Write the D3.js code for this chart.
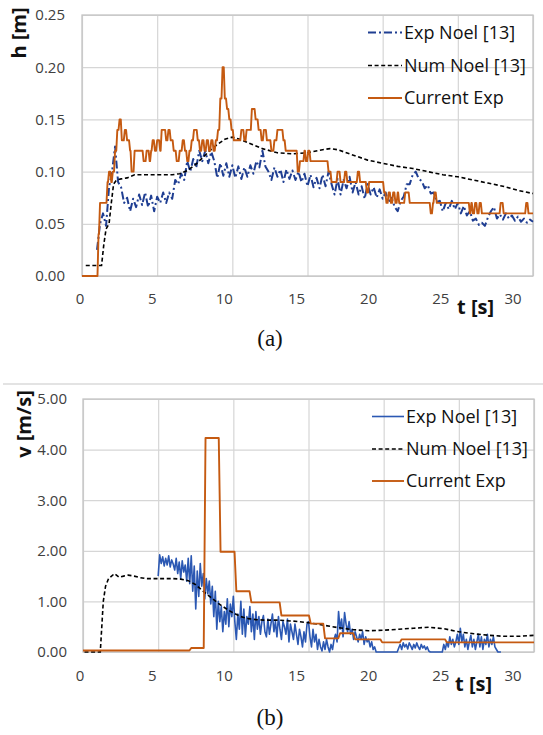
<!DOCTYPE html>
<html><head><meta charset="utf-8">
<script src="https://cdn.jsdelivr.net/npm/d3@7"></script>
<style>body{margin:0;background:#fff}</style>
</head><body><svg id="c" width="543" height="735" font-family="Open Sans, sans-serif"></svg>
<script>
// ---------- DATA ----------
const tTicks = [0, 5, 10, 15, 20, 25, 30];
const hTicks = [0, 0.05, 0.10, 0.15, 0.20, 0.25];
const vTicks = [0, 1, 2, 3, 4, 5];
const seriesNames = ["Exp Noel [13]", "Num Noel [13]", "Current Exp"];
const panelTags = ["(a)", "(b)"];
const yTitles = ["h [m]", "v [m/s]"];
const xTitle = "t [s]";

// (a) Exp Noel h, sampled every 0.2 s from t = 1.0
const hExpStart = 1.0, hExpStep = 0.2;
const hExp = [0.025,0.05,0.06,0.048,0.085,0.1,0.124,0.09,0.085,0.07,
0.075,0.062,0.074,0.066,0.078,0.068,0.08,0.066,0.077,0.062,
0.076,0.07,0.08,0.07,0.08,0.074,0.092,0.088,0.098,0.092,
0.11,0.1,0.112,0.104,0.12,0.11,0.12,0.108,0.119,0.11,
0.094,0.108,0.096,0.108,0.095,0.106,0.094,0.105,0.093,0.104,
0.095,0.106,0.098,0.11,0.104,0.12,0.105,0.1,0.092,0.104,
0.095,0.102,0.09,0.102,0.093,0.101,0.092,0.1,0.09,0.098,
0.086,0.097,0.085,0.094,0.084,0.097,0.086,0.1,0.088,0.078,
0.093,0.078,0.092,0.084,0.095,0.08,0.09,0.078,0.086,0.074,
0.088,0.078,0.085,0.075,0.083,0.074,0.08,0.07,0.075,0.066,
0.062,0.072,0.076,0.088,0.088,0.097,0.1,0.093,0.091,0.084,
0.087,0.079,0.08,0.071,0.072,0.062,0.07,0.064,0.072,0.064,
0.07,0.06,0.067,0.058,0.062,0.053,0.055,0.049,0.051,0.048,
0.056,0.062,0.066,0.055,0.059,0.054,0.06,0.055,0.058,0.053,
0.057,0.052,0.055,0.051,0.054,0.052];

// (a) Num Noel h
const hNumT = [0.25,1.3,1.45,1.6,1.8,1.95,2.1,2.3,2.6,3.0,3.5,4,5,6,6.5,7,7.5,8,8.5,9,9.5,10,10.5,11,12,13,14,15,16,16.5,17,18,19,20,21,22,23,24,25,26,27,28,29,30];
const hNumV = [0.01,0.01,0.03,0.045,0.05,0.07,0.088,0.092,0.093,0.094,0.097,0.097,0.097,0.097,0.098,0.101,0.106,0.113,0.12,0.126,0.131,0.133,0.131,0.128,0.122,0.118,0.117,0.118,0.121,0.122,0.121,0.116,0.111,0.108,0.105,0.103,0.1,0.097,0.095,0.092,0.089,0.086,0.082,0.079];

// (a) Current Exp h (level changes)
const hCurT = [0,1.1,1.2,1.7,1.8,1.95,2.05,2.2,2.35,2.5,2.65,2.85,3.0,3.2,3.3,3.5,4.1,4.3,4.5,4.6,4.7,4.85,5.0,5.2,5.3,5.6,5.75,5.9,6.1,6.3,6.5,6.7,6.85,7.0,7.15,7.3,7.45,7.7,7.85,8.0,8.15,8.3,8.45,8.6,8.75,8.9,9.05,9.2,9.35,9.5,9.65,9.8,9.95,10.1,10.6,10.8,10.95,11.3,11.55,11.75,11.95,12.1,12.3,12.6,12.8,13.0,13.2,13.4,13.55,14.35,14.5,14.8,14.9,15.05,15.2,16.4,16.6,17.0,17.2,17.5,17.65,18.35,18.5,18.95,19.1,20.1,20.25,20.4,20.55,20.7,20.85,21.0,21.1,21.5,21.8,23.2,23.35,23.45,23.6,25.8,25.9,26.0,26.15,26.3,26.45,26.6,27.85,28.05,29.55,29.7,30];
const hCurV = [0,0.04,0.07,0.09,0.10,0.09,0.10,0.12,0.14,0.15,0.13,0.14,0.13,0.12,0.10,0.12,0.11,0.12,0.11,0.12,0.13,0.12,0.13,0.12,0.14,0.13,0.14,0.13,0.12,0.11,0.12,0.13,0.12,0.11,0.12,0.13,0.14,0.13,0.12,0.13,0.12,0.13,0.12,0.13,0.12,0.13,0.14,0.17,0.20,0.17,0.16,0.15,0.14,0.13,0.14,0.13,0.14,0.16,0.15,0.14,0.13,0.14,0.13,0.12,0.13,0.14,0.14,0.13,0.12,0.10,0.11,0.12,0.11,0.12,0.11,0.10,0.09,0.10,0.09,0.10,0.09,0.10,0.09,0.08,0.09,0.08,0.07,0.08,0.07,0.08,0.07,0.08,0.07,0.08,0.07,0.06,0.07,0.08,0.07,0.06,0.07,0.06,0.07,0.06,0.07,0.06,0.07,0.06,0.07,0.06,0.06];

// (b) Exp Noel v, sampled every 0.1 s from t = 5.0
const vExpStart = 5.0, vExpStep = 0.1;
const vExp = [1.50,1.92,1.75,1.88,1.70,1.85,1.72,1.90,1.68,1.82,
1.74,1.62,1.85,1.55,1.78,1.45,1.80,1.58,1.72,1.40,
1.85,1.35,1.90,1.20,1.70,0.85,1.60,1.10,1.75,1.30,
1.55,1.05,1.45,1.15,1.40,0.95,1.30,0.70,1.20,0.45,
1.00,0.60,0.90,0.40,0.80,0.55,1.05,0.50,0.95,0.70,
1.10,0.60,0.25,0.75,0.45,1.00,0.35,0.85,0.30,0.70,
0.55,0.90,0.40,0.75,0.25,0.80,0.45,0.70,0.35,0.60,
0.72,0.40,0.30,0.65,0.35,0.55,0.75,0.40,0.60,0.30,
0.70,0.45,0.25,0.60,0.50,0.35,0.65,0.20,0.55,0.40,
0.25,0.55,0.35,0.15,0.45,0.30,0.10,0.40,0.20,0.55,
0.60,0.30,0.10,0.45,0.20,0.35,0.05,0.25,0.10,0.02,
0.20,0.05,0.25,0.10,0.00,0.15,0.05,0.25,0.35,0.20,
0.80,0.45,0.65,0.30,0.78,0.55,0.40,0.60,0.35,0.45,
0.25,0.40,0.30,0.20,0.35,0.25,0.40,0.15,0.30,0.20,
0.25,0.10,0.20,0.05,0.10,0.00,0.00,0.00,0.00,0.00,
0,0,0,0,0,0,0,0,0,0,
0.08,0.15,0.05,0.18,0.10,0.15,0.06,0.18,0.12,0.05,
0.15,0.08,0.18,0.10,0.05,0.15,0.08,0.12,0.05,0.10,
0.02,0,0,0,0,0,0,0,0,0,
0.15,0.05,0.20,0.10,0.30,0.15,0.25,0.10,0.20,0.35,
0.15,0.47,0.20,0.35,0.10,0.25,0.05,0.20,0.33,0.10,
0.25,0.05,0.20,0.35,0.10,0.30,0.05,0.25,0.15,0.35,
0.10,0.25,0.15,0.30,0.10,0.05,0.00,0.00,0.00];

// (b) Num Noel v
const vNumT = [0.1,1.15,1.25,1.35,1.5,1.7,1.9,2.1,2.4,2.7,3.0,3.4,3.8,4.2,5,6,6.5,7,7.5,8,8.5,9,9.5,10,10.5,11,11.5,12,12.5,13,14,15,16,17,18,19,20,21,22,23,24,25,26,27,28,29,30];
const vNumV = [0,0,0.5,1.0,1.3,1.45,1.5,1.55,1.48,1.5,1.52,1.5,1.47,1.45,1.45,1.45,1.44,1.41,1.33,1.2,1.08,0.96,0.86,0.77,0.7,0.66,0.64,0.63,0.63,0.63,0.61,0.58,0.53,0.48,0.44,0.42,0.43,0.45,0.47,0.49,0.46,0.4,0.36,0.33,0.31,0.31,0.33];

// (b) Current Exp v (level changes)
const vCurT = [0,7.2,8.15,9.15,10.2,11.2,13.2,15.15,16.1,17.1,18.1,19.9,21.2,24.2,30];
const vCurV = [0.03,0.08,4.23,1.98,1.2,0.98,0.72,0.56,0.27,0.37,0.25,0.19,0.25,0.19,0.19];

// ---------- DRAW ----------
const svg = d3.select("#c");
svg.append("rect").attr("width",543).attr("height",735).attr("fill","#fff");

const C_ORANGE = "#c55a11", C_NAVY = "#1f3e92", C_BLUE = "#2b58b3", C_GRID = "#d6d6d6", C_TXT = "#404040";

// level-change list -> plateau points joined by short ramps (as the sampled record is drawn)
function plateaus(T, V, ramp) {
  const pts = [];
  for (let i = 0; i < T.length; i++) {
    pts.push([T[i], V[i]]);
    if (i < T.length - 1 && T[i+1] - ramp > T[i]) pts.push([T[i+1] - ramp, V[i]]);
  }
  return pts;
}

function panel(o) {
  const x = d3.scaleLinear().domain([0,30]).range([o.left, o.right]);
  const xl = d3.scaleLinear().domain([0,30]).range([o.labL, o.labR]);
  const y = d3.scaleLinear().domain(o.ydom).range([o.bottom, o.top]);
  const g = svg.append("g");
  g.append("g").attr("transform",`translate(0,${o.bottom})`)
    .call(d3.axisBottom(x).tickValues(tTicks).tickSize(-(o.bottom-o.top)).tickFormat(""))
    .call(s=>s.select(".domain").remove())
    .call(s=>s.selectAll("line").attr("stroke",C_GRID).attr("stroke-width",1.2));
  g.append("g").attr("transform",`translate(${o.left},0)`)
    .call(d3.axisLeft(y).tickValues(o.yticks).tickSize(-(o.right-o.left)).tickFormat(""))
    .call(s=>s.select(".domain").remove())
    .call(s=>s.selectAll("line").attr("stroke",C_GRID).attr("stroke-width",1.2));
  g.append("rect").attr("x",o.left).attr("y",o.top).attr("width",o.right-o.left).attr("height",o.bottom-o.top)
    .attr("fill","none").attr("stroke","#c4c4c4").attr("stroke-width",1.3);
  g.append("g").attr("transform",`translate(${o.left},0)`)
    .call(d3.axisLeft(y).tickValues(o.yticks).tickSize(0).tickPadding(o.ypad).tickFormat(d3.format(".2f")))
    .call(s=>s.select(".domain").remove())
    .call(s=>s.selectAll("text").attr("font-size",15).attr("fill",C_TXT).style("font-family","Open Sans, sans-serif"));
  g.append("g").attr("transform",`translate(0,${o.xlabY})`)
    .call(d3.axisBottom(xl).tickValues(tTicks).tickSize(0).tickPadding(0).tickFormat(d3.format("d")))
    .call(s=>s.select(".domain").remove())
    .call(s=>s.selectAll("text").attr("font-size",15).attr("fill",C_TXT).style("font-family","Open Sans, sans-serif"));
  g.append("text").attr("transform",`translate(${o.ytX},${o.ytY}) rotate(-90)`).attr("text-anchor","middle")
    .attr("font-size",20).attr("font-weight","bold").attr("fill","#111").text(o.ytitle);
  g.append("text").attr("x",o.xtX).attr("y",o.xtY).attr("font-size",20).attr("font-weight","bold").attr("fill","#111").text(xTitle);
  g.append("text").attr("x",270).attr("y",o.tagY).attr("text-anchor","middle").attr("font-size",23)
    .style("font-family","'Liberation Serif', 'Times New Roman', serif").attr("fill","#111").text(o.tag);

  const line = d3.line().x(d=>x(d[0])).y(d=>y(d[1]));
  g.append("path").datum(o.exp).attr("d",line).attr("fill","none").attr("stroke",o.expColor)
    .attr("stroke-width",o.expW).attr("stroke-dasharray",o.expDash).attr("stroke-linejoin","round");
  g.append("path").datum(o.num).attr("d",line).attr("fill","none").attr("stroke","#000")
    .attr("stroke-width",1.6).attr("stroke-dasharray","4 2.6");
  g.append("path").datum(o.cur).attr("d",line).attr("fill","none").attr("stroke",C_ORANGE)
    .attr("stroke-width",1.9).attr("stroke-linejoin","round");
  const styles = [
    {c:o.expColor, w:o.expW, d:o.expDash},
    {c:"#000", w:1.6, d:"4 2.6"},
    {c:C_ORANGE, w:1.9, d:null}];
  seriesNames.forEach((n,i)=>{
    const yy = o.legY[i];
    g.append("line").attr("x1",o.legX1).attr("x2",o.legX2).attr("y1",yy).attr("y2",yy)
      .attr("stroke",styles[i].c).attr("stroke-width",styles[i].w).attr("stroke-dasharray",styles[i].d);
    g.append("text").attr("x",o.legX2+2).attr("y",yy).attr("dy","0.35em").attr("font-size",18)
      .attr("fill","#111").text(n);
  });
}

const hExpPts = hExp.map((v,i)=>[hExpStart+i*hExpStep, v]);
const vExpPts = vExp.map((v,i)=>[vExpStart+i*vExpStep, v]);

panel({left:82,right:533,top:15,bottom:276,labL:79.5,labR:512.5,ydom:[0,0.25],yticks:hTicks,ypad:17,xlabY:293,
  ytitle:yTitles[0],ytX:26,ytY:33,xtX:457,xtY:314,tag:panelTags[0],tagY:346,
  exp:hExpPts,num:hNumT.map((t,i)=>[t,hNumV[i]]),cur:plateaus(hCurT,hCurV,0.07),
  expColor:C_NAVY,expW:2,expDash:"8 3 2 3",legX1:368,legX2:402,legY:[32.5,65.5,98]});

svg.append("line").attr("x1",3).attr("x2",543).attr("y1",384).attr("y2",384).attr("stroke","#c8c8c8").attr("stroke-width",1.2);

panel({left:83,right:534,top:399,bottom:652,labL:79.5,labR:512.5,ydom:[0,5],yticks:vTicks,ypad:16,xlabY:670,
  ytitle:yTitles[1],ytX:31,ytY:424,xtX:455,xtY:691,tag:panelTags[1],tagY:725,
  exp:vExpPts,num:vNumT.map((t,i)=>[t,vNumV[i]]),cur:plateaus(vCurT,vCurV,0.12),
  expColor:C_BLUE,expW:1.6,expDash:null,legX1:372,legX2:404,legY:[416.5,449,481]});
</script></body></html>
